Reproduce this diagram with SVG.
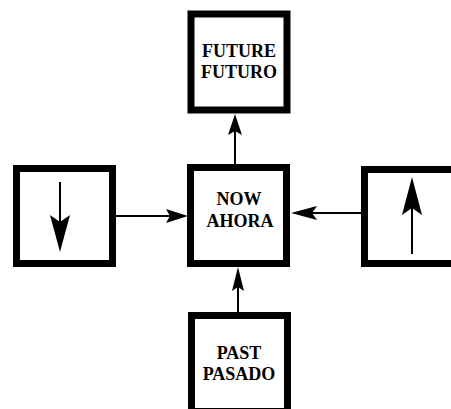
<svg xmlns="http://www.w3.org/2000/svg" width="451" height="409" viewBox="0 0 451 409">
<style>
.box{fill:#fff;stroke:#000;stroke-width:7}
.lbl{font-family:"Liberation Serif","Times New Roman",serif;font-weight:bold;font-size:18px;fill:#000;text-anchor:middle}
.ln{stroke:#000;stroke-width:2;fill:none}
.hd{fill:#000;stroke:none}
</style>
<rect width="451" height="409" fill="#fff"/>
<g id="future">
<rect class="box" x="191" y="14" width="96" height="96"/>
<text class="lbl" x="239" y="57">FUTURE</text>
<text class="lbl" x="239" y="78">FUTURO</text>
</g>
<g id="now">
<rect class="box" x="190.5" y="167.5" width="96" height="96"/>
<text class="lbl" x="239" y="205">NOW</text>
<text class="lbl" x="240" y="227">AHORA</text>
</g>
<g id="past">
<rect class="box" x="191.5" y="315.5" width="96" height="96"/>
<text class="lbl" x="239" y="359">PAST</text>
<text class="lbl" x="239" y="380">PASADO</text>
</g>
<g id="left">
<rect class="box" x="16.5" y="168.5" width="96" height="95"/>
<line class="ln" x1="60" y1="182" x2="60" y2="224"/>
<polygon class="hd" points="60,252 50,215 60,222 70,215"/>
</g>
<g id="right">
<rect class="box" x="364.5" y="169.5" width="96" height="94"/>
<line class="ln" x1="412" y1="254" x2="412" y2="206"/>
<polygon class="hd" points="412,177 402,215 412,208 422,215"/>
</g>
<g id="connectors">
<line class="ln" x1="235" y1="164" x2="235" y2="128"/>
<polygon class="hd" points="235,114 228,135 235,131 242,135"/>
<line class="ln" x1="116" y1="216" x2="172" y2="216"/>
<polygon class="hd" points="188,216 166,209 170,216 166,223"/>
<line class="ln" x1="361" y1="213" x2="310" y2="213"/>
<polygon class="hd" points="291,213 317,206 312,213 317,220"/>
<line class="ln" x1="238" y1="312" x2="238" y2="285"/>
<polygon class="hd" points="238,267 232,291 238,287 244,291"/>
</g>
</svg>
